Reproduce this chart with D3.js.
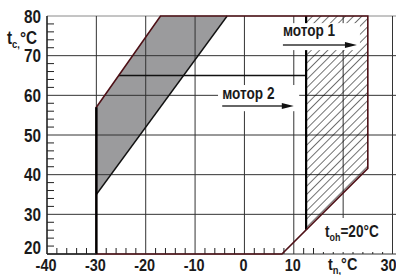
<!DOCTYPE html>
<html>
<head>
<meta charset="utf-8">
<script src="https://cdn.jsdelivr.net/npm/d3@7"></script>
<style>
  html, body { margin: 0; padding: 0; background: #fff; }
  svg { display: block; }
  text { font-family: "Liberation Sans", Arial, sans-serif; font-weight: bold; fill: #1a1a1a; }
</style>
</head>
<body>
<svg id="chart" width="396" height="275"></svg>
<script>
/// chart values
var xTicks = [-40, -30, -20, -10, 0, 10, 20, 30]
var xLabels = ["-40", "-30", "-20", "-10", "0", "10", "", "30"]
var yTicks = [20, 30, 40, 50, 60, 70, 80]
var minorStep = 2

var grayBand = [[-30, 57], [-17, 80], [-3.5, 80], [-30, 35]]      /// shaded zone
var boundary = [[-30, 20], [-30, 57], [-17, 80], [25, 80], [25, 41.6], [7.6, 20]]
var motor1Zone = [[12.5, 80], [25, 80], [25, 41.6], [12.5, 26.1]] /// hatched zone
var motor2Line = [[-25.5, 65], [12.5, 65]]
var motor2Edge = [[12.5, 80], [12.5, 26.1]]
var leftEdge = [[-30, 57], [-30, 20]]

var labels = ["мотор 1", "мотор 2"]

var W = 396, H = 275
var x = d3.scaleLinear().domain([-40, 30]).range([47, 392.5])
var y = d3.scaleLinear().domain([20, 80]).range([254, 16])

var svg = d3.select("#chart")
var line = d3.line().x(d => x(d[0])).y(d => y(d[1]))
var red = "#4e1016"
var squeeze = 0.85   /// condensed look

/// text placed at px,py, squeezed horizontally
function label(px, py, size, anchor) {
    return svg.append("text")
        .attr("transform", "translate(" + px + "," + py + ") scale(" + squeeze + ",1)")
        .attr("font-size", size)
        .attr("text-anchor", anchor || "start")
}

/// hatch pattern
var defs = svg.append("defs")
defs.append("pattern")
    .attr("id", "hatch")
    .attr("patternUnits", "userSpaceOnUse")
    .attr("width", 5.8).attr("height", 10)
    .attr("patternTransform", "rotate(45)")
  .append("line")
    .attr("x1", 0).attr("y1", 0).attr("x2", 0).attr("y2", 10)
    .attr("stroke", "#000").attr("stroke-width", 1.1)

/// gray band
svg.append("path")
    .attr("d", line(grayBand) + "Z")
    .attr("fill", "#9b9b9d")

/// grid
svg.append("g").selectAll("line")
    .data(yTicks)
    .enter().append("line")
    .attr("x1", x(-40)).attr("x2", W)
    .attr("y1", d => y(d)).attr("y2", d => y(d))
    .attr("stroke", d => d == 80 ? "#8a8a8a" : "#333")
    .attr("stroke-width", 1)

svg.append("g").selectAll("line")
    .data(xTicks)
    .enter().append("line")
    .attr("x1", d => x(d)).attr("x2", d => x(d))
    .attr("y1", y(20)).attr("y2", y(80))
    .attr("stroke", d => d == -40 ? "#222" : "#333")
    .attr("stroke-width", 1)

/// minor ticks
var xMinor = d3.range(-40, 30.1, minorStep).filter(d => d % 10 != 0)
var yMinor = d3.range(20, 80.1, minorStep).filter(d => d % 10 != 0)

svg.append("g").selectAll("line")
    .data(xMinor)
    .enter().append("line")
    .attr("x1", d => x(d)).attr("x2", d => x(d))
    .attr("y1", y(20)).attr("y2", y(20) - 6)
    .attr("stroke", "#222")

svg.append("g").selectAll("line")
    .data(yMinor)
    .enter().append("line")
    .attr("x1", x(-40)).attr("x2", x(-40) + 7)
    .attr("y1", d => y(d)).attr("y2", d => y(d))
    .attr("stroke", "#222")

/// hatched motor 1 zone
svg.append("path")
    .attr("d", line(motor1Zone) + "Z")
    .attr("fill", "url(#hatch)")

/// lines
svg.append("path")
    .attr("d", line(grayBand.slice(2).concat([grayBand[3]])))
    .attr("fill", "none").attr("stroke", "#111").attr("stroke-width", 1.4)

svg.append("path")
    .attr("d", line(motor2Line))
    .attr("fill", "none").attr("stroke", "#111").attr("stroke-width", 1.4)

svg.append("path")
    .attr("d", line(motor2Edge))
    .attr("fill", "none").attr("stroke", "#000").attr("stroke-width", 2.2)

svg.append("path")
    .attr("d", line(boundary) + "Z")
    .attr("fill", "none").attr("stroke", red).attr("stroke-width", 1.6)

svg.append("path")
    .attr("d", line(leftEdge))
    .attr("fill", "none").attr("stroke", "#000").attr("stroke-width", 2.4)

/// label boxes with arrows
function arrow(x0, x1, yy) {
    svg.append("line")
        .attr("x1", x(x0)).attr("x2", x(x1) - 8)
        .attr("y1", y(yy)).attr("y2", y(yy))
        .attr("stroke", "#333").attr("stroke-width", 1.6)
    svg.append("path")
        .attr("d", "M" + x(x1) + "," + y(yy) + "l-12,-3l0,6Z")
        .attr("fill", "#111")
}

svg.append("rect")
    .attr("x", x(6.4)).attr("y", y(78.2))
    .attr("width", x(23.4) - x(6.4)).attr("height", y(71.4) - y(78.2))
    .attr("fill", "#fff")
label(x(7.8), y(75), 16).text(labels[0])
arrow(7.8, 22.8, 72.7)

svg.append("rect")
    .attr("x", x(-5.35)).attr("y", y(62.6))
    .attr("width", x(11.1) - x(-5.35)).attr("height", y(56) - y(62.6))
    .attr("fill", "#fff")
label(x(-4.5), y(59.1), 16).text(labels[1])
arrow(-4.5, 10, 57.3)

/// t_oh label
svg.append("rect")
    .attr("x", 320).attr("y", 218)
    .attr("width", 66).attr("height", 34)
    .attr("fill", "#fff")
var toh = label(325, 237, 16)
toh.append("tspan").text("t")
toh.append("tspan").attr("font-size", 10.5).attr("dy", 4).text("oh")
toh.append("tspan").attr("dy", -4).text("=20°C")

/// axes lines
svg.append("line")
    .attr("x1", x(-40)).attr("x2", x(-30))
    .attr("y1", y(20)).attr("y2", y(20))
    .attr("stroke", "#222").attr("stroke-width", 1.4)
svg.append("line")
    .attr("x1", x(-40)).attr("x2", x(-40))
    .attr("y1", y(20)).attr("y2", y(80))
    .attr("stroke", "#222").attr("stroke-width", 1.2)

/// tick labels
xTicks.forEach(function(d, i) {
    var px = d == 30 ? x(d) - 4 : x(d) - 1
    label(px, 271, 17, "middle").text(xLabels[i])
})

yTicks.forEach(function(d) {
    var off = d == 20 ? 0 : 6.5
    label(41, y(d) + off, 18, "end").text(d)
})

/// axis titles
var tn = label(328, 270, 17)
tn.append("tspan").text("t")
tn.append("tspan").attr("font-size", 11).attr("dy", 4).text("n,")
tn.append("tspan").attr("dy", -4).text("°C")

var tc = label(7, 44, 18)
tc.append("tspan").text("t")
tc.append("tspan").attr("font-size", 11).attr("dy", 4).text("c,")
tc.append("tspan").attr("dy", -4).text("°C")
</script>
</body>
</html>
